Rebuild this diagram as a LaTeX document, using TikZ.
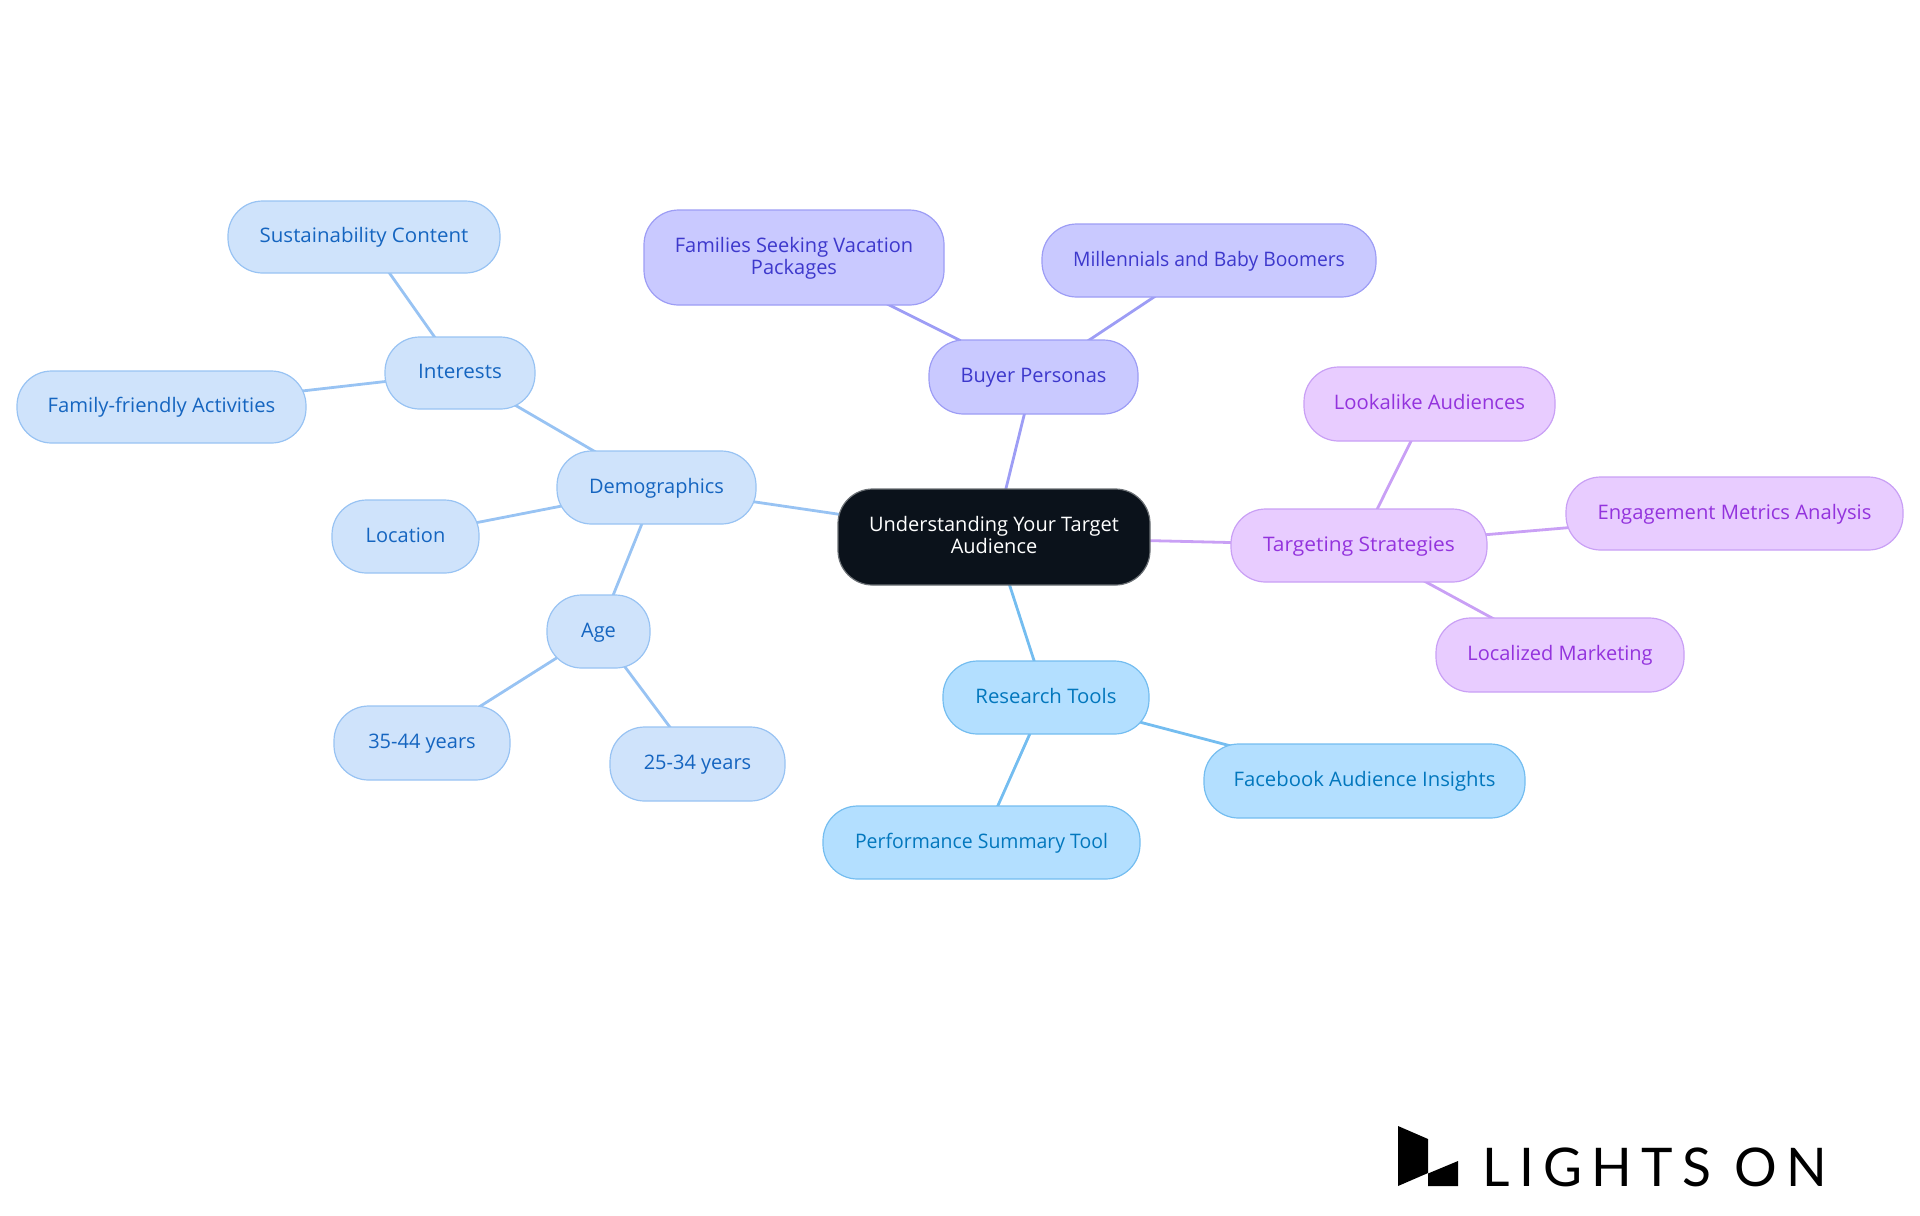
\documentclass[tikz,border=0pt]{standalone}
\usepackage{fontspec}
\setmainfont{Open Sans}
\newfontfamily\logofont[LetterSpace=17.5]{Lato}
\usetikzlibrary{backgrounds}
\definecolor{rootfill}{HTML}{0B121B}
\definecolor{rootline}{HTML}{6B7075}
\definecolor{bfill}{HTML}{CFE3FB}\definecolor{bline}{HTML}{98C3F3}\definecolor{btext}{HTML}{1565C0}
\definecolor{ifill}{HTML}{C9C9FF}\definecolor{iline}{HTML}{9D9DF5}\definecolor{itext}{HTML}{3D38CC}
\definecolor{pfill}{HTML}{E8CCFF}\definecolor{pline}{HTML}{C9A0F5}\definecolor{ptext}{HTML}{9333DD}
\definecolor{rfill}{HTML}{B3DFFF}\definecolor{rline}{HTML}{74BDF0}\definecolor{rtext}{HTML}{0277BD}
\tikzset{
 x=0.75pt,y=-0.75pt,
 mm/.style={rounded corners=26pt,line width=0.9pt,align=center,inner sep=0pt,font=\fontsize{15}{16.3}\selectfont},
 blue/.style={mm,fill=bfill,draw=bline,text=btext},
 indigo/.style={mm,fill=ifill,draw=iline,text=itext},
 purp/.style={mm,fill=pfill,draw=pline,text=ptext},
 res/.style={mm,fill=rfill,draw=rline,text=rtext},
 rootbox/.style={mm,fill=rootfill,draw=rootline,text=white},
 conn/.style={line width=2.1pt},
}
% \mmnode{style}{name}{x1}{y1}{x2}{y2}{text} in full-size pixels
\newcommand{\hs}[2]{\scalebox{#1}[1]{#2}}
\newcommand{\mmnode}[7]{%
 \pgfmathsetmacro{\cxv}{(#3+#5)/2}\pgfmathsetmacro{\cyv}{(#4+#6)/2}%
 \pgfmathsetmacro{\wv}{(#5-#3)*0.75}\pgfmathsetmacro{\hv}{(#6-#4)*0.75}%
 \node[#1,minimum width=\wv pt,minimum height=\hv pt] (#2) at (\cxv,\cyv) {\rule{0pt}{12.2pt}#7\rule[-3.5pt]{0pt}{3.5pt}};}
\begin{document}
\begin{tikzpicture}
\useasboundingbox (0,0) rectangle (1920,1215);
\mmnode{rootbox}{root}{838}{489}{1150}{585}{Understanding Your Target\\Audience}
\mmnode{blue}{demo}{557}{451}{756}{524}{Demographics}
\mmnode{blue}{inter}{385}{337}{535}{409}{\hs{1.03}{Interests}}
\mmnode{blue}{sust}{228}{201}{500}{273}{\hs{1.024}{Sustainability Content}}
\mmnode{blue}{fam}{17}{371}{306}{443}{\hs{1.012}{Family-friendly Activities}}
\mmnode{blue}{loc}{332}{500}{479}{573}{Location}
\mmnode{blue}{age}{547}{595}{650}{668}{Age}
\mmnode{blue}{a35}{334}{706}{510}{780}{35-44 years}
\mmnode{blue}{a25}{610}{727}{785}{801}{25-34 years}
\mmnode{indigo}{buyer}{929}{340}{1138}{414}{Buyer Personas}
\mmnode{indigo}{fams}{644}{210}{944}{305}{Families Seeking Vacation\\Packages}
\mmnode{indigo}{mill}{1042}{224}{1376}{297}{\hs{0.965}{Millennials and Baby Boomers}}
\mmnode{purp}{targ}{1231}{509}{1487}{582}{\hs{1.047}{Targeting Strategies}}
\mmnode{purp}{look}{1304}{367}{1555}{441}{\hs{1.013}{Lookalike Audiences}}
\mmnode{purp}{eng}{1566}{477}{1903}{550}{\hs{1.01}{Engagement Metrics Analysis}}
\mmnode{purp}{lcl}{1436}{618}{1684}{692}{Localized Marketing}
\mmnode{res}{rest}{943}{661}{1149}{734}{\hs{1.018}{Research Tools}}
\mmnode{res}{fb}{1204}{744}{1525}{818}{\hs{1.014}{Facebook Audience Insights}}
\mmnode{res}{perf}{823}{806}{1140}{879}{\hs{0.972}{Performance Summary Tool}}
\begin{pgfonlayer}{background}
\draw[conn,bline] (root.center) -- (demo.center);
\draw[conn,bline] (demo.center) -- (inter.center);
\draw[conn,bline] (inter.center) -- (sust.center);
\draw[conn,bline] (inter.center) -- (fam.center);
\draw[conn,bline] (demo.center) -- (loc.center);
\draw[conn,bline] (demo.center) -- (age.center);
\draw[conn,bline] (age.center) -- (a35.center);
\draw[conn,bline] (age.center) -- (a25.center);
\draw[conn,iline] (root.center) -- (buyer.center);
\draw[conn,iline] (buyer.center) -- (fams.center);
\draw[conn,iline] (buyer.center) -- (mill.center);
\draw[conn,pline] (root.center) -- (targ.center);
\draw[conn,pline] (targ.center) -- (look.center);
\draw[conn,pline] (targ.center) -- (eng.center);
\draw[conn,pline] (targ.center) -- (lcl.center);
\draw[conn,rline] (root.center) -- (rest.center);
\draw[conn,rline] (rest.center) -- (fb.center);
\draw[conn,rline] (rest.center) -- (perf.center);
\end{pgfonlayer}
\fill[black] (1398,1126) -- (1428,1139) -- (1428,1173) -- (1398,1186) -- cycle;
\fill[black] (1428,1173.5) -- (1458,1161) -- (1458,1186) -- (1428,1186) -- cycle;
\node[anchor=base west,inner sep=0pt,font=\logofont\fontsize{40}{40}\selectfont] (logo) at (1482,1186) {LIGHTS ON};
\end{tikzpicture}
\end{document}
